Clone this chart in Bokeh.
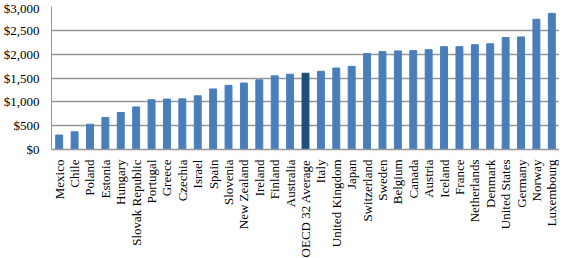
from bokeh.plotting import figure
from bokeh.models import ColumnDataSource, NumeralTickFormatter, FixedTicker, Range1d, FactorRange
from bokeh.embed import file_html
from bokeh.resources import INLINE
from math import pi

countries = ["Mexico", "Chile", "Poland", "Estonia", "Hungary", "Slovak Republic", "Portugal",
             "Greece", "Czechia", "Israel", "Spain", "Slovenia", "New Zealand", "Ireland",
             "Finland", "Australia", "OECD 32 Average", "Italy", "United Kingdom", "Japan",
             "Switzerland", "Sweden", "Belgium", "Canada", "Austria", "Iceland", "France",
             "Netherlands", "Denmark", "United States", "Germany", "Norway", "Luxembourg"]
values = [303, 371, 529, 673, 776, 893, 1044, 1058, 1064, 1126, 1270, 1346, 1394, 1462,
          1545, 1579, 1600, 1641, 1709, 1744, 2012, 2053, 2067, 2074, 2095, 2157, 2157,
          2198, 2218, 2348, 2361, 2732, 2855]
y_ticks = [0, 500, 1000, 1500, 2000, 2500, 3000]

colors = ["#1F4E79" if c == "OECD 32 Average" else "#4A7EBB" for c in countries]
src = ColumnDataSource(dict(x=countries, top=values, color=colors))

p = figure(x_range=FactorRange(*countries, range_padding=0), y_range=Range1d(0, 3000),
           width=559, height=250, frame_height=143, output_backend="svg", toolbar_location=None,
           min_border_left=0, min_border_right=0, min_border_top=6, min_border_bottom=0)
p.outline_line_color = None
p.vbar(x="x", top="top", width=0.45, color="color", source=src)

p.yaxis.ticker = FixedTicker(ticks=y_ticks)
p.yaxis.formatter = NumeralTickFormatter(format="$0,0")
p.ygrid.ticker = FixedTicker(ticks=y_ticks)
p.ygrid.grid_line_color = "#969696"
p.ygrid.grid_line_width = 1.5
p.ygrid.level = "underlay"
p.xgrid.grid_line_color = None

for ax in (p.xaxis, p.yaxis):
    ax.major_label_text_font = "Times New Roman"
    ax.major_label_text_font_size = "13px"
    ax.major_label_text_color = "#000000"
    ax.axis_line_color = "#969696"
    ax.major_tick_line_color = None
    ax.minor_tick_line_color = None
p.yaxis.major_label_standoff = 6
p.xaxis.major_label_orientation = pi / 2
p.xaxis.major_label_standoff = 4
p.xaxis.axis_line_width = 1.5

open("out.html", "w").write(file_html(p, INLINE))
